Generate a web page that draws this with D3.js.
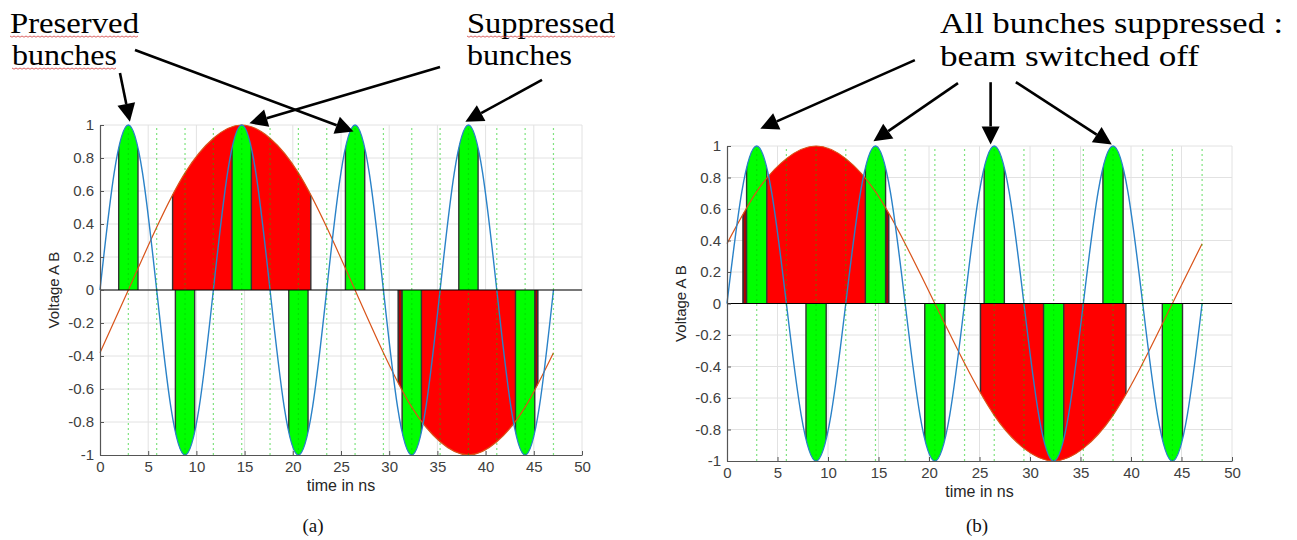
<!DOCTYPE html>
<html>
<head>
<meta charset="utf-8">
<script src="https://cdn.jsdelivr.net/npm/d3@7"></script>
<style>
  body { margin: 0; background: #fff; }
  svg { display: block; }
</style>
</head>
<body>
<svg id="fig" width="1297" height="540"></svg>
<script>
// ---- values (time in ns, voltage normalised) ----
var blueTime = [0, 1.47, 2.94, 4.41, 5.88, 7.35, 8.82, 10.29, 11.76, 13.23, 14.7, 16.17, 17.64,
  19.11, 20.58, 22.05, 23.52, 24.99, 26.46, 27.93, 29.4, 30.87, 32.34, 33.81, 35.28, 36.75,
  38.22, 39.69, 41.16, 42.63, 44.1, 45.57, 47.04];
var blueVolt = [0, 0.71, 1, 0.71, 0, -0.71, -1, -0.71, 0, 0.71, 1, 0.71, 0, -0.71, -1, -0.71,
  0, 0.71, 1, 0.71, 0, -0.71, -1, -0.71, 0, 0.71, 1, 0.71, 0, -0.71, -1, -0.71, 0];

var orangeTime = [0, 2.94, 5.88, 8.82, 11.76, 14.7, 17.64, 20.58, 23.52, 26.46, 29.4, 32.34,
  35.28, 38.22, 41.16, 44.1, 47.04];
var orangeVoltA = [-0.38, 0, 0.38, 0.71, 0.92, 1, 0.92, 0.71, 0.38, 0, -0.38, -0.71, -0.92, -1, -0.92, -0.71, -0.38];
var orangeVoltB = [0.38, 0.71, 0.92, 1, 0.92, 0.71, 0.38, 0, -0.38, -0.71, -0.92, -1, -0.92, -0.71, -0.38, 0, 0.38];

// bunch windows (green), kicker windows (red) and the dark red leftovers
var bunchWindows = [[1.94, 3.94], [7.82, 9.82], [13.7, 15.7], [19.58, 21.58],
  [25.46, 27.46], [31.34, 33.34], [37.22, 39.22], [43.1, 45.1]];
var redWindowsA = [[7.53, 21.87], [30.95, 45.4]];
var redWindowsB = [[1.6, 16.0], [25.1, 39.5]];
var darkWindowsA = [[30.95, 31.34], [45.1, 45.4]];
var darkWindowsB = [[1.6, 1.94], [15.7, 16.0]];

// dotted markers every quarter period
var markerTimes = [2.94, 5.88, 8.82, 11.76, 14.7, 17.64, 20.58, 23.52, 26.46, 29.4, 32.34,
  35.28, 38.22, 41.16, 44.1, 47.04];

var xTicks = [0, 5, 10, 15, 20, 25, 30, 35, 40, 45, 50];
var yTicks = [-1, -0.8, -0.6, -0.4, -0.2, 0, 0.2, 0.4, 0.6, 0.8, 1];

// arrows: [tailTime, tailVolt, tipTime, tipVolt]
var arrowsA = [[2.07, 1.315, 3.1, 1.02], [3.63, 1.455, 26.3, 0.96],
  [35.27, 1.352, 15.5, 1.01], [45.85, 1.273, 37.9, 1.02]];
var arrowsB = [[18.6, 1.545, 3.3, 1.11], [22.87, 1.399, 14.5, 1.03],
  [26.1, 1.405, 26.1, 1.01], [28.6, 1.405, 38.1, 1.01]];

var svg = d3.select('#fig');
var defs = svg.append('defs');

function drawArrow(g, x1, y1, x2, y2) {
  var a = Math.atan2(y2 - y1, x2 - x1), len = 18, hw = 9;
  var bx = x2 - len * Math.cos(a), by = y2 - len * Math.sin(a);
  g.append('line').attr('x1', x1).attr('y1', y1).attr('x2', bx).attr('y2', by)
    .attr('stroke', '#000').attr('stroke-width', 2.6);
  var pts = [[x2, y2],
    [bx + hw * Math.sin(a), by - hw * Math.cos(a)],
    [bx - hw * Math.sin(a), by + hw * Math.cos(a)]];
  g.append('polygon').attr('points', pts.map(function(p) { return p.join(','); }).join(' '))
    .attr('fill', '#000');
}

function drawPanel(p) {
  var g = svg.append('g');
  var x = d3.scaleLinear().domain([0, 50]).range([p.left, p.right]);
  var y = d3.scaleLinear().domain([-1, 1]).range([p.bottom, p.top]);

  // grid
  g.append('g').selectAll('line').data(xTicks.slice(1)).join('line')
    .attr('x1', function(d) { return x(d); }).attr('x2', function(d) { return x(d); })
    .attr('y1', y(-1)).attr('y2', y(1))
    .attr('stroke', '#e2e2e2');
  g.append('g').selectAll('line').data(yTicks.slice(1)).join('line')
    .attr('y1', function(d) { return y(d); }).attr('y2', function(d) { return y(d); })
    .attr('x1', x(0)).attr('x2', x(50))
    .attr('stroke', '#e2e2e2');

  var area = d3.area().curve(d3.curveNatural)
    .x(function(d) { return x(d[0]); }).y0(y(0)).y1(function(d) { return y(d[1]); });
  var line = d3.line().curve(d3.curveNatural)
    .x(function(d) { return x(d[0]); }).y(function(d) { return y(d[1]); });
  var blue = d3.zip(blueTime, blueVolt);
  var orange = d3.zip(orangeTime, p.orange);

  defs.append('clipPath').attr('id', p.id + '-blue').append('path').attr('d', area(blue));
  defs.append('clipPath').attr('id', p.id + '-orange').append('path').attr('d', area(orange));

  function windows(data, clip, fill) {
    g.append('g').attr('clip-path', 'url(#' + p.id + '-' + clip + ')')
      .selectAll('rect').data(data).join('rect')
      .attr('x', function(d) { return x(d[0]); })
      .attr('width', function(d) { return x(d[1]) - x(d[0]); })
      .attr('y', y(1.1)).attr('height', y(-1.1) - y(1.1))
      .attr('fill', fill).attr('stroke', '#333').attr('stroke-width', 1.4);
  }
  windows(p.red, 'orange', '#ff0000');
  windows(p.dark, 'orange', '#b00000');
  windows(bunchWindows, 'blue', '#00ff00');

  // curves
  g.append('path').attr('d', line(orange)).attr('fill', 'none')
    .attr('stroke', '#d95319').attr('stroke-width', 1.2);
  g.append('path').attr('d', line(blue)).attr('fill', 'none')
    .attr('stroke', '#2a82c8').attr('stroke-width', 1.4);

  // dotted markers
  g.append('g').selectAll('line').data(markerTimes).join('line')
    .attr('x1', function(d) { return x(d); }).attr('x2', function(d) { return x(d); })
    .attr('y1', y(-1)).attr('y2', y(1))
    .attr('stroke', '#00c800').attr('stroke-opacity', 0.5)
    .attr('stroke-width', 1.2).attr('stroke-dasharray', '2,3');

  // zero line
  g.append('line').attr('x1', x(0)).attr('x2', x(50)).attr('y1', y(0)).attr('y2', y(0))
    .attr('stroke', '#000').attr('stroke-width', 1.2);

  // axes
  var ax = g.append('g').attr('transform', 'translate(0,' + y(-1) + ')')
    .call(d3.axisBottom(x).tickValues(xTicks).tickSizeInner(-4).tickSizeOuter(0).tickPadding(6));
  var ay = g.append('g').attr('transform', 'translate(' + x(0) + ',0)')
    .call(d3.axisLeft(y).tickValues(yTicks).tickSizeInner(-4).tickSizeOuter(0).tickPadding(6)
      .tickFormat(function(d) { return String(+d.toFixed(1)); }));
  [ax, ay].forEach(function(a) {
    a.select('.domain').attr('stroke', '#555').attr('stroke-width', 1.2);
    a.selectAll('.tick line').attr('stroke', '#555');
    a.selectAll('.tick text').attr('fill', '#404040')
      .style('font-family', '"Liberation Sans", Arial, sans-serif').style('font-size', '15px');
  });

  g.append('text').attr('transform', 'translate(' + (x(0) - 46) + ',' + y(0) + ') rotate(-90)')
    .attr('text-anchor', 'middle').attr('dy', '0.35em')
    .style('font-family', '"Liberation Sans", Arial, sans-serif').style('font-size', '15px')
    .attr('fill', '#262626').text('Voltage A B');
  g.append('text').attr('x', (x(0) + x(50)) / 2).attr('y', y(-1) + 36)
    .attr('text-anchor', 'middle')
    .style('font-family', '"Liberation Sans", Arial, sans-serif').style('font-size', '16px')
    .attr('fill', '#262626').text('time in ns');

  g.append('text').attr('x', p.capX).attr('y', 532).attr('text-anchor', 'middle')
    .style('font-family', '"Liberation Serif", serif').style('font-size', '19px')
    .attr('fill', '#111').text(p.caption);

  p.arrows.forEach(function(d) {
    drawArrow(g, x(d[0]), y(d[1]), x(d[2]), y(d[3]));
  });
}

drawPanel({ id: 'pa', left: 100, right: 582, top: 125, bottom: 455,
  orange: orangeVoltA, red: redWindowsA, dark: darkWindowsA, arrows: arrowsA,
  caption: '(a)', capX: 313 });
drawPanel({ id: 'pb', left: 727, right: 1232, top: 146, bottom: 461,
  orange: orangeVoltB, red: redWindowsB, dark: darkWindowsB, arrows: arrowsB,
  caption: '(b)', capX: 977 });

// annotation text
var notes = [
  { text: 'Preserved', x: 10, y: 33, w: 129, squiggle: true },
  { text: 'bunches', x: 12, y: 65, w: 105, squiggle: true },
  { text: 'Suppressed', x: 467, y: 33, w: 148, squiggle: true },
  { text: 'bunches', x: 467, y: 65, w: 105, squiggle: false },
  { text: 'All bunches suppressed :', x: 940, y: 33, w: 343, squiggle: false },
  { text: 'beam switched off', x: 940, y: 66, w: 259, squiggle: false }
];
var ng = svg.append('g');
notes.forEach(function(n) {
  ng.append('text').attr('x', n.x).attr('y', n.y)
    .attr('textLength', n.w).attr('lengthAdjust', 'spacingAndGlyphs')
    .style('font-family', '"Liberation Serif", "Times New Roman", serif').style('font-size', '30px')
    .attr('fill', '#000').text(n.text);
  if (n.squiggle) {
    var pts = [];
    for (var px = n.x, i = 0; px <= n.x + n.w; px += 2, i++) pts.push([px, n.y + 3 + (i % 2 ? 1.2 : 0)]);
    ng.append('path').attr('d', d3.line()(pts)).attr('fill', 'none')
      .attr('stroke', '#d23c3c').attr('stroke-width', 0.8);
  }
});
</script>
</body>
</html>
